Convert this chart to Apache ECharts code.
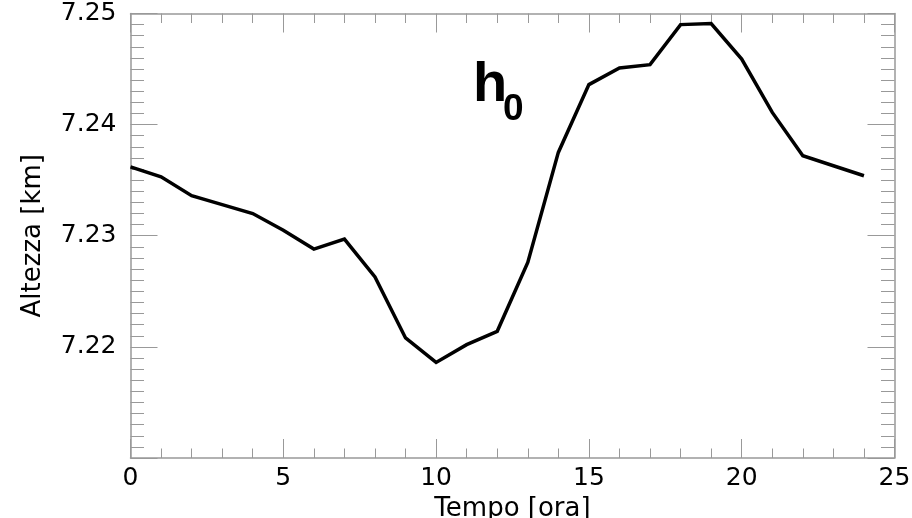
<!DOCTYPE html>
<html>
<head>
<meta charset="utf-8">
<script src="https://cdn.jsdelivr.net/npm/echarts@6/dist/echarts.min.js"></script>
<style>
html,body{margin:0;padding:0;background:#fff;}
#chart{width:912px;height:518px;}
</style>
</head>
<body>
<div id="chart"></div>
<script>
// Data
const hours = [0,1,2,3,4,5,6,7,8,9,10,11,12,13,14,15,16,17,18,19,20,21,22,23,24];
const altezza = [7.2362,7.2353,7.2336,7.2328,7.2320,7.2305,7.2288,7.2297,7.2263,7.2208,7.2186,7.2202,7.2214,7.2276,7.2375,7.2436,7.2451,7.2454,7.2490,7.2491,7.2459,7.2411,7.2372,7.2363,7.2354];
const xTitle = 'Tempo [ora]';
const yTitle = 'Altezza [km]';
const labelText = 'h';
const labelSub = '0';

const seriesData = hours.map((h, i) => [h, altezza[i]]);

const FONT = '"DejaVu Sans", sans-serif';
const axisGray = '#999999';

const chart = echarts.init(document.getElementById('chart'), null, {renderer: 'canvas'});

function xAxisDef(extra) {
  return Object.assign({
    type: 'value', min: 0, max: 25, interval: 5,
    axisLine: {show: true, onZero: false, lineStyle: {color: axisGray, width: 1.5}},
    axisTick: {show: true, inside: true, length: 19, lineStyle: {color: axisGray, width: 1}},
    minorTick: {show: true, splitNumber: 5, length: 9.5, lineStyle: {color: axisGray, width: 1}},
    splitLine: {show: false}
  }, extra);
}
function yAxisDef(extra) {
  return Object.assign({
    type: 'value', min: 7.21, max: 7.25, interval: 0.01,
    axisLine: {show: true, onZero: false, lineStyle: {color: axisGray, width: 1.5}},
    axisTick: {show: true, inside: true, length: 27, lineStyle: {color: axisGray, width: 1}},
    minorTick: {show: true, splitNumber: 10, length: 13.5, lineStyle: {color: axisGray, width: 1}},
    splitLine: {show: false}
  }, extra);
}

chart.setOption({
  animation: false,
  backgroundColor: '#ffffff',
  grid: {left: 130.5, right: 17.5, top: 13.5, bottom: 60, containLabel: false, outerBoundsMode: 'none'},
  xAxis: [
    xAxisDef({
      position: 'bottom',
      name: xTitle, nameLocation: 'middle', nameGap: 29,
      nameTextStyle: {fontFamily: FONT, fontSize: 26, color: '#000'},
      axisLabel: {show: true, margin: 8, fontFamily: FONT, fontSize: 25, color: '#000',
        formatter: v => String(Math.round(v))}
    }),
    xAxisDef({
      position: 'top',
      axisLabel: {show: false}
    })
  ],
  yAxis: [
    yAxisDef({
      position: 'left',
      name: yTitle, nameLocation: 'middle', nameGap: 84,
      nameTextStyle: {fontFamily: FONT, fontSize: 26, color: '#000'},
      axisLabel: {show: true, margin: 14, fontFamily: FONT, fontSize: 25, color: '#000',
        formatter: v => (v < 7.215 ? '' : v.toFixed(2))}
    }),
    yAxisDef({
      position: 'right',
      axisLabel: {show: false}
    })
  ],
  graphic: [
    {type: 'text', x: 473, y: 86, style: {text: labelText, font: 'bold 56px "Liberation Sans", Arial, sans-serif', fill: '#000', textVerticalAlign: 'middle'}},
    {type: 'text', x: 503, y: 110, style: {text: labelSub, font: 'bold 37px "Liberation Sans", Arial, sans-serif', fill: '#000', textVerticalAlign: 'middle'}}
  ],
  series: [{
    type: 'line',
    xAxisIndex: 0, yAxisIndex: 0,
    data: seriesData,
    showSymbol: false,
    symbol: 'none',
    lineStyle: {color: '#000', width: 3.5, join: 'miter'},
    clip: false
  }]
});
</script>
</body>
</html>
